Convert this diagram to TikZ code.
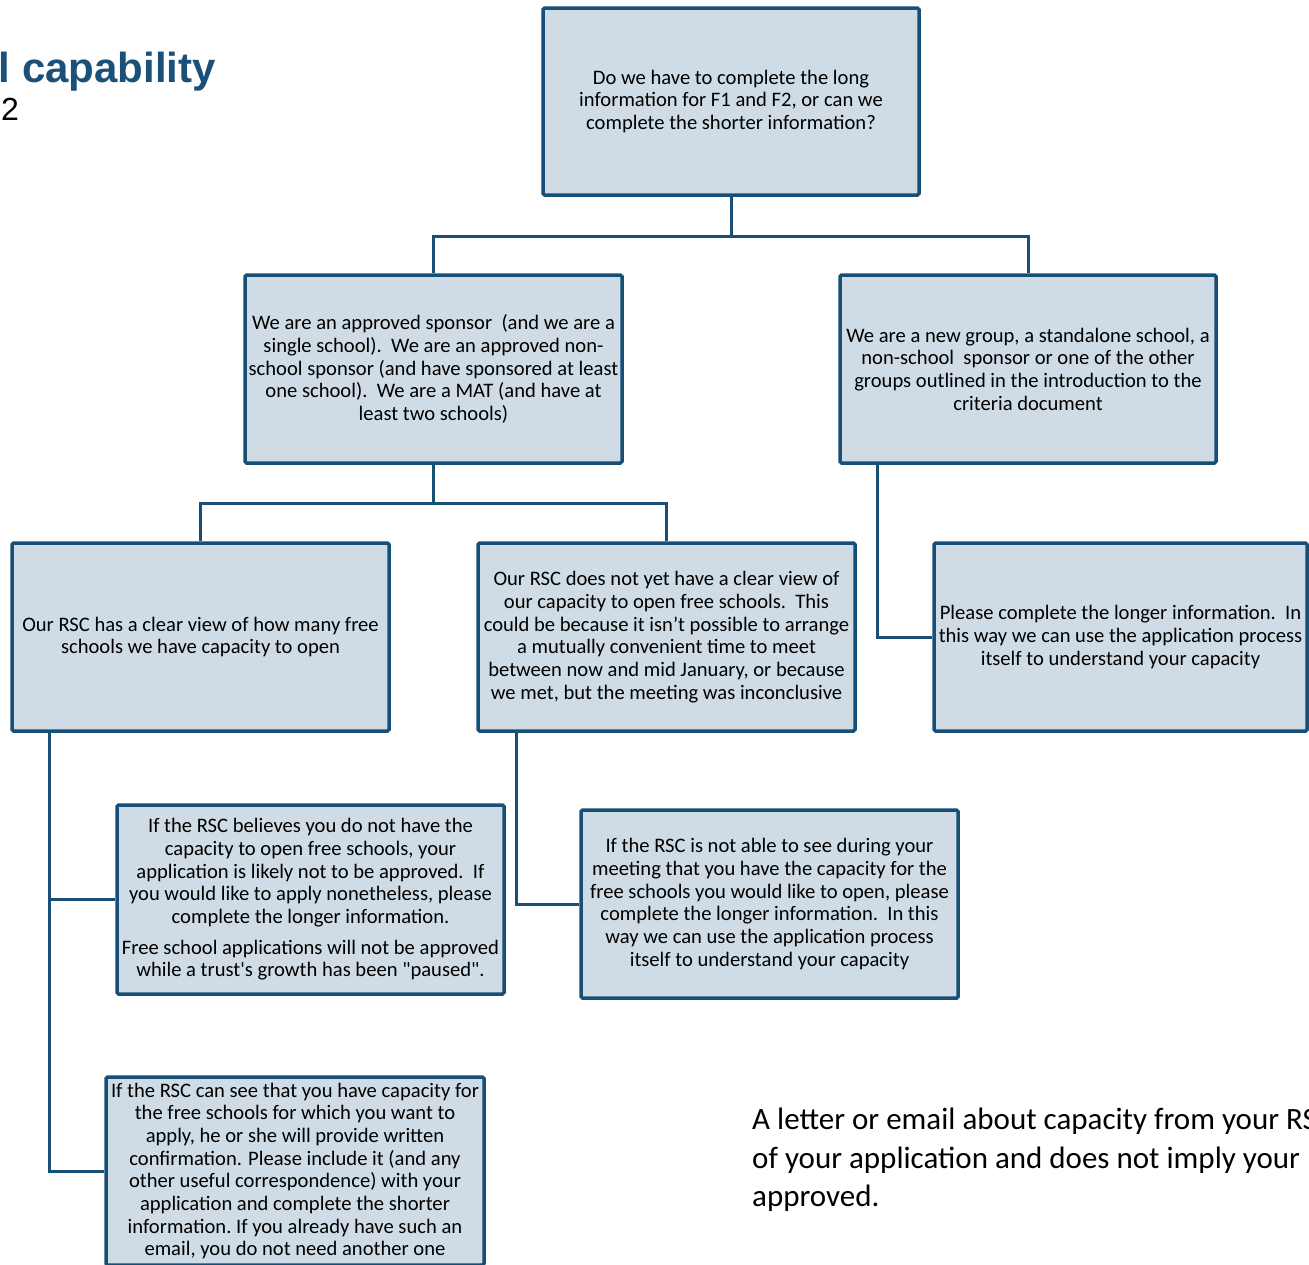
\documentclass[tikz,border=0pt]{standalone}
\usepackage{fontspec}
\setmainfont{Carlito}[Ligatures=TeXOff]
\newfontfamily\arialfont{Liberation Sans}
\definecolor{bordc}{RGB}{24,79,118}
\definecolor{fillc}{RGB}{208,220,229}
\definecolor{titlec}{RGB}{27,80,120}
\tikzset{
  box/.style={draw=bordc, fill=fillc, line width=3.5pt, rounded corners=1.5pt,
    inner sep=0pt, align=center, text=black,
    font=\fontsize{20.6}{22.7}\selectfont},
  conn/.style={draw=bordc, line width=3pt},
}
\begin{document}
\begin{tikzpicture}[x=1pt,y=-1pt]
\useasboundingbox (0,0) rectangle (1309,1264);
\clip (0,0) rectangle (1309,1264);

\node[anchor=base east, inner sep=0pt, text=titlec, font=\arialfont\bfseries\fontsize{42}{48}\selectfont] (title) at (216,82) {al capability};
\node[anchor=base west, inner sep=0pt, font=\arialfont\fontsize{32}{36}\selectfont] (num) at (1,120) {2};

\node[box, minimum width=376pt, minimum height=187pt] (top) at (731,101.5)
  {Do we have to complete the long\\information for F1 and F2, or can we\\complete the shorter information?};
\node[box, minimum width=377pt, minimum height=188pt] (lm) at (433.5,369)
  {We are an approved sponsor\ \ (and we are a\\single school).\ \ We are an approved non-\\school\ sponsor\ (and have sponsored\ at least\\one school).\ \ We are a MAT (and have at\\least two schools)};
\node[box, minimum width=376pt, minimum height=188pt] (rm) at (1028,369)
  {We are a new group, a standalone\ school,\ a\\non-school\ \ sponsor\ or one\ of the other\\groups outlined in the introduction to the\\criteria document};
\node[box, minimum width=377pt, minimum height=188pt] (A) at (200.5,637)
  {Our RSC has a clear view of how\ many free\\schools\ we have capacity to open};
\node[box, minimum width=377pt, minimum height=188pt] (B) at (666.5,637)
  {Our RSC does not yet have a clear view of\\our capacity to open free schools.\ \ This\\could be because it isn’t possible\ to arrange\\a mutually convenient time to meet\\between now and mid January, or because\\we met, but the meeting was inconclusive};
\node[box, minimum width=373pt, minimum height=188pt] (C) at (1120.5,637)
  {Please complete the longer information.\ \ In\\this way we can use the application process\\itself to understand your capacity};
\node[box, minimum width=387pt, minimum height=189pt] (D) at (310.5,899.5)
  {If the RSC believes\ you do not have the\\capacity to open free schools, your\\application is likely not to be approved.\ \ If\\you would like to apply nonetheless, please\\complete the longer information.\\[8pt]Free school\ applications will not be approved\\while a trust's growth has been "paused".};
\node[box, minimum width=377pt, minimum height=188pt] (E) at (769.5,904)
  {If the RSC is not able to see during\ your\\meeting that you\ have the capacity for the\\free schools\ you would like to open, please\\complete the longer information.\ \ In this\\way we can use the application process\\itself to understand your capacity};
\node[box, minimum width=378pt, minimum height=188pt] (F) at (295,1171)
  {If the RSC can see that you have capacity for\\the free schools\ for which you want to\\apply, he or she will provide\ written\\confirmation. Please include it (and any\\other useful\ correspondence) with your\\application and complete the shorter\\information.\ If you already have such an\\email, you do not need another one};

\node[anchor=north west, inner sep=0pt, align=left, font=\fontsize{31}{38.5}\selectfont] (note) at (752,1108)
  {A letter or email about capacity from your RSC\\of your application and does not imply your\\approved.};

\draw[conn] (top.south) -- ++(0,40) -| (lm.north);
\draw[conn] (top.south) -- ++(0,40) -| (rm.north);
\draw[conn] (lm.south) -- ++(0,39) -| (A.north);
\draw[conn] (lm.south) -- ++(0,39) -| (B.north);
\draw[conn] ([xshift=39pt]rm.south west) |- (C.west);
\draw[conn] ([xshift=39pt]A.south west) |- (D.west);
\draw[conn] ([xshift=39pt]A.south west) |- (F.west);
\draw[conn] ([xshift=40pt]B.south west) |- (E.west);
\end{tikzpicture}
\end{document}
